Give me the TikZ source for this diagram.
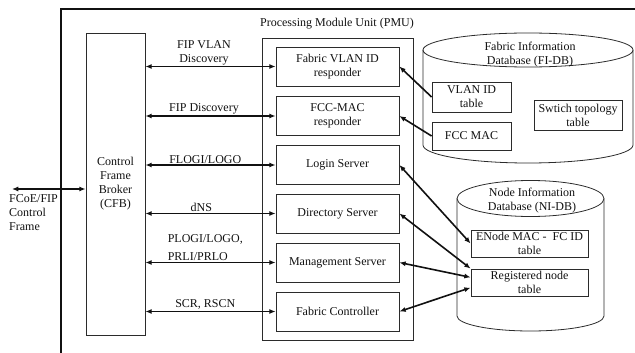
\documentclass[tikz,border=0pt]{standalone}
\usepackage{fontspec}
\setmainfont{Liberation Serif}
\usetikzlibrary{arrows.meta,positioning}
\definecolor{ink}{HTML}{111111}
\definecolor{edge}{HTML}{2B2B2B}
\tikzset{
  frame/.style={draw=ink,line width=2.4pt},
  blk/.style={draw=edge,line width=0.8pt,align=center,inner sep=1pt,text=ink},
  func/.style={blk,minimum width=123pt,minimum height=39pt},
  tab/.style={blk,minimum height=#1},
  tab/.default=28pt,
  db/.style={draw=edge,line width=0.8pt},
  lbl/.style={text=ink,inner sep=1pt,align=center},
  arr/.style={-{Latex[length=2.2mm,width=1.8mm]},line width=1.6pt,draw=ink},
  darr/.style={{Latex[length=2.2mm,width=1.8mm]}-{Latex[length=2.2mm,width=1.8mm]},line width=1.6pt,draw=ink},
}

\begin{document}
\begin{tikzpicture}[x=1pt,y=-1pt,font=\fontsize{12}{14}\selectfont]
  \useasboundingbox (0,0) rectangle (635,353);
  \draw[frame] (61,360) -- (61,9) -- (640,9);
  % broker and processing unit
  \node[blk,minimum width=59pt,minimum height=302pt] (cfb) at (115.5,184) {Control\\Frame\\Broker\\(CFB)};
  \node[blk,minimum width=151pt,minimum height=302pt] (pmu) at (337.5,189) {};
  \node[lbl] (pmulbl) at (337,24) {Processing Module Unit (PMU)};
  \node[func] (vlanresp) at (337.5,66.5) {Fabric VLAN ID\\responder};
  \node[func] (fccresp) at (337.5,116) {FCC-MAC\\responder};
  \node[func] (login) at (337.5,165) {Login Server};
  \node[func] (dirsrv) at (337.5,213.5) {Directory Server};
  \node[func] (mgmt) at (337.5,262.5) {Management Server};
  \node[func] (fabctl) at (337.5,311.5) {Fabric Controller};
  % fabric information database
  \draw[db] (528,50) ellipse [x radius=105,y radius=17];
  \draw[db] (423,50) -- (423,145) arc[start angle=180,end angle=0,x radius=105,y radius=18] -- (633,50);
  \node[lbl] (fidb) at (530,55) {Fabric Information\\Database (FI-DB)};
  \node[tab=30pt,minimum width=79pt] (vlantab) at (471.5,97) {VLAN ID\\table};
  \node[tab,minimum width=79pt] (fccmac) at (471.5,136) {FCC MAC};
  \node[tab=30pt,minimum width=88pt] (swtopo) at (578,115) {Swtich topology\\table};
  % node information database
  \draw[db] (530.5,198.5) ellipse [x radius=73.5,y radius=18];
  \draw[db] (457,198.5) -- (457,316) arc[start angle=180,end angle=0,x radius=73.5,y radius=15] -- (604,198.5);
  \node[lbl] (nidb) at (532,201) {Node Information\\Database (NI-DB)};
  \node[tab=27pt,minimum width=117pt] (enode) at (529.5,243.5) {ENode MAC -\ \ FC ID\\table};
  \node[tab=27pt,minimum width=117pt] (regnode) at (529.5,282.5) {Registered node\\table};
  % external side
  \coordinate (ext) at (12,189);
  \draw[darr] (ext) -- (ext -| cfb.west);
  \node[lbl,align=left,anchor=north west] (extlbl) at (8,193) {FCoE/FIP\\Control\\Frame};
  % broker to functions
  \draw[darr] (cfb.east |- vlanresp) -- node[lbl,above,pos=.45] {FIP VLAN\\Discovery} (vlanresp);
  \draw[darr] (cfb.east |- fccresp) -- node[lbl,above,pos=.45] {FIP Discovery} (fccresp);
  \draw[darr] (cfb.east |- login) -- node[lbl,above,pos=.46] {FLOGI/LOGO} (login);
  \draw[darr] (cfb.east |- dirsrv) -- node[lbl,above,pos=.43] {dNS} (dirsrv);
  \draw[darr] (cfb.east |- mgmt) -- node[lbl,above,pos=.46,align=left] {PLOGI/LOGO,\\[4pt]PRLI/PRLO} (mgmt);
  \draw[darr] (cfb.east |- fabctl) -- node[lbl,above,pos=.46] {SCR, RSCN} (fabctl);
  % database links
  \draw[arr] (vlantab.west) -- (vlanresp.east);
  \draw[arr] (fccmac.west) -- (fccresp.east);
  \draw[darr] (login.east) -- (enode.west);
  \draw[darr] (dirsrv.east) -- (regnode.north west);
  \draw[darr] (mgmt.east) -- (regnode.175);
  \draw[darr] (fabctl.east) -- (regnode.185);
\end{tikzpicture}
\end{document}
